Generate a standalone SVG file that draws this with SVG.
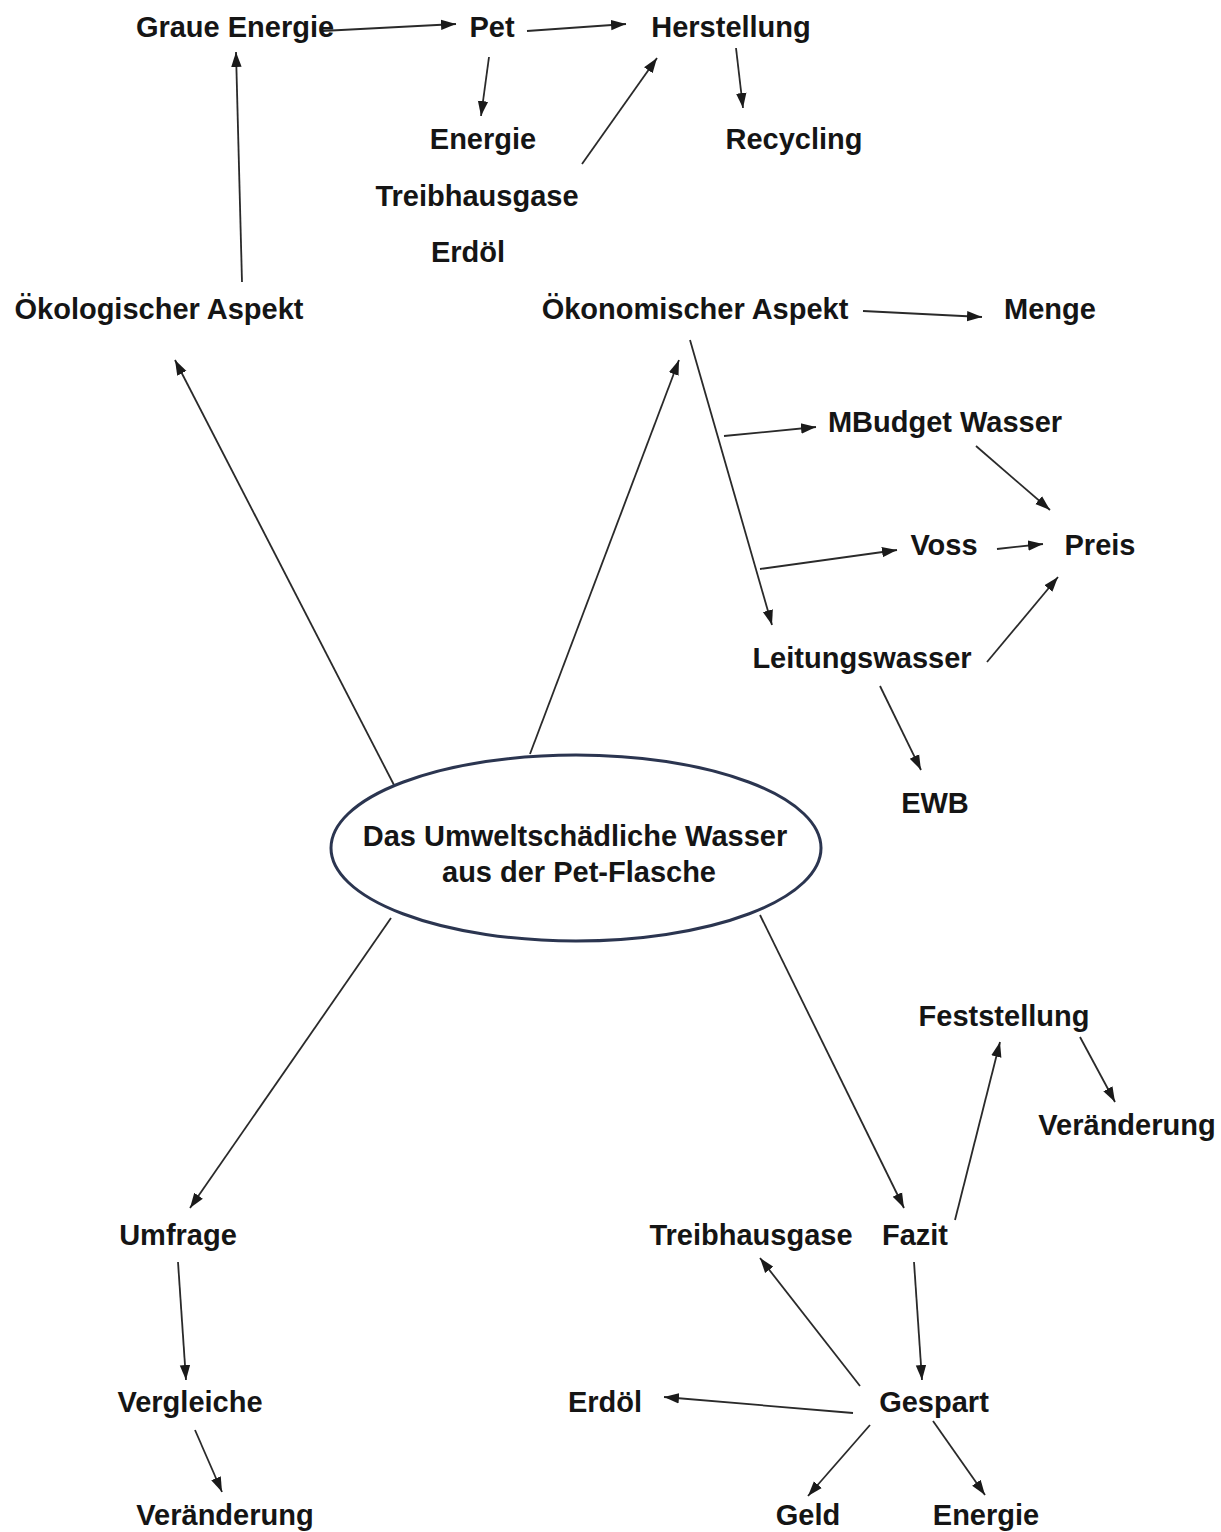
<svg xmlns="http://www.w3.org/2000/svg" width="1221" height="1532" viewBox="0 0 1221 1532">
<style>
.t{font-family:"Liberation Sans",Arial,sans-serif;font-weight:bold;font-size:29px;fill:#151515;text-anchor:middle}
.c line{stroke:#2a2a2a;stroke-width:1.8;marker-end:url(#ah)}
</style>
<defs>
<marker id="ah" markerUnits="userSpaceOnUse" markerWidth="16" markerHeight="12" refX="15" refY="6" orient="auto">
<path d="M0,0.8 L15,6 L0,11.2 z" fill="#1a1a1a"/>
</marker>
</defs>
<rect width="1221" height="1532" fill="#fff"/>
<g class="c" id="connectors">
<line x1="322" y1="31" x2="456" y2="24"/>
<line x1="527" y1="31" x2="626" y2="24"/>
<line x1="489" y1="57" x2="481" y2="116"/>
<line x1="582" y1="164" x2="657" y2="58"/>
<line x1="736" y1="48" x2="743" y2="108"/>
<line x1="242" y1="282" x2="236" y2="52"/>
<line x1="394" y1="785" x2="175" y2="360"/>
<line x1="530" y1="754" x2="679" y2="360"/>
<line x1="863" y1="311" x2="982" y2="317"/>
<line x1="690" y1="340" x2="772" y2="625"/>
<line x1="724" y1="436" x2="816" y2="427"/>
<line x1="760" y1="569" x2="897" y2="550"/>
<line x1="976" y1="446" x2="1050" y2="510"/>
<line x1="997" y1="549" x2="1043" y2="544"/>
<line x1="987" y1="662" x2="1058" y2="577"/>
<line x1="880" y1="686" x2="921" y2="770"/>
<line x1="391" y1="918" x2="190" y2="1208"/>
<line x1="760" y1="915" x2="904" y2="1208"/>
<line x1="955" y1="1220" x2="1000" y2="1042"/>
<line x1="1080" y1="1037" x2="1115" y2="1102"/>
<line x1="914" y1="1262" x2="922" y2="1380"/>
<line x1="860" y1="1386" x2="760" y2="1258"/>
<line x1="853" y1="1413" x2="664" y2="1397"/>
<line x1="870" y1="1425" x2="808" y2="1496"/>
<line x1="933" y1="1421" x2="985" y2="1495"/>
<line x1="178" y1="1262" x2="186" y2="1380"/>
<line x1="195" y1="1430" x2="222" y2="1492"/>
</g>
<g id="center">
<ellipse cx="576" cy="848" rx="245" ry="93" fill="#fff" stroke="#2b3550" stroke-width="3"/>
<text class="t" x="575" y="846">Das Umweltschädliche Wasser</text>
<text class="t" x="579" y="882">aus der Pet-Flasche</text>
</g>
<g id="n-graue"><text class="t" x="235" y="37">Graue Energie</text></g>
<g id="n-pet"><text class="t" x="492" y="37">Pet</text></g>
<g id="n-herstellung"><text class="t" x="731" y="37">Herstellung</text></g>
<g id="n-energie1"><text class="t" x="483" y="149">Energie</text></g>
<g id="n-recycling"><text class="t" x="794" y="149">Recycling</text></g>
<g id="n-treib1"><text class="t" x="477" y="206">Treibhausgase</text></g>
<g id="n-erdoel1"><text class="t" x="468" y="262">Erdöl</text></g>
<g id="n-oekolog"><text class="t" x="159" y="319">Ökologischer Aspekt</text></g>
<g id="n-oekonom"><text class="t" x="695" y="319">Ökonomischer Aspekt</text></g>
<g id="n-menge"><text class="t" x="1050" y="319">Menge</text></g>
<g id="n-mbudget"><text class="t" x="945" y="432">MBudget Wasser</text></g>
<g id="n-voss"><text class="t" x="944" y="555">Voss</text></g>
<g id="n-preis"><text class="t" x="1100" y="555">Preis</text></g>
<g id="n-leitung"><text class="t" x="862" y="668">Leitungswasser</text></g>
<g id="n-ewb"><text class="t" x="935" y="813">EWB</text></g>
<g id="n-feststellung"><text class="t" x="1004" y="1026">Feststellung</text></g>
<g id="n-veraend1"><text class="t" x="1127" y="1135">Veränderung</text></g>
<g id="n-umfrage"><text class="t" x="178" y="1245">Umfrage</text></g>
<g id="n-treib2"><text class="t" x="751" y="1245">Treibhausgase</text></g>
<g id="n-fazit"><text class="t" x="915" y="1245">Fazit</text></g>
<g id="n-vergleiche"><text class="t" x="190" y="1412">Vergleiche</text></g>
<g id="n-erdoel2"><text class="t" x="605" y="1412">Erdöl</text></g>
<g id="n-gespart"><text class="t" x="934" y="1412">Gespart</text></g>
<g id="n-veraend2"><text class="t" x="225" y="1525">Veränderung</text></g>
<g id="n-geld"><text class="t" x="808" y="1525">Geld</text></g>
<g id="n-energie2"><text class="t" x="986" y="1525">Energie</text></g>
</svg>
